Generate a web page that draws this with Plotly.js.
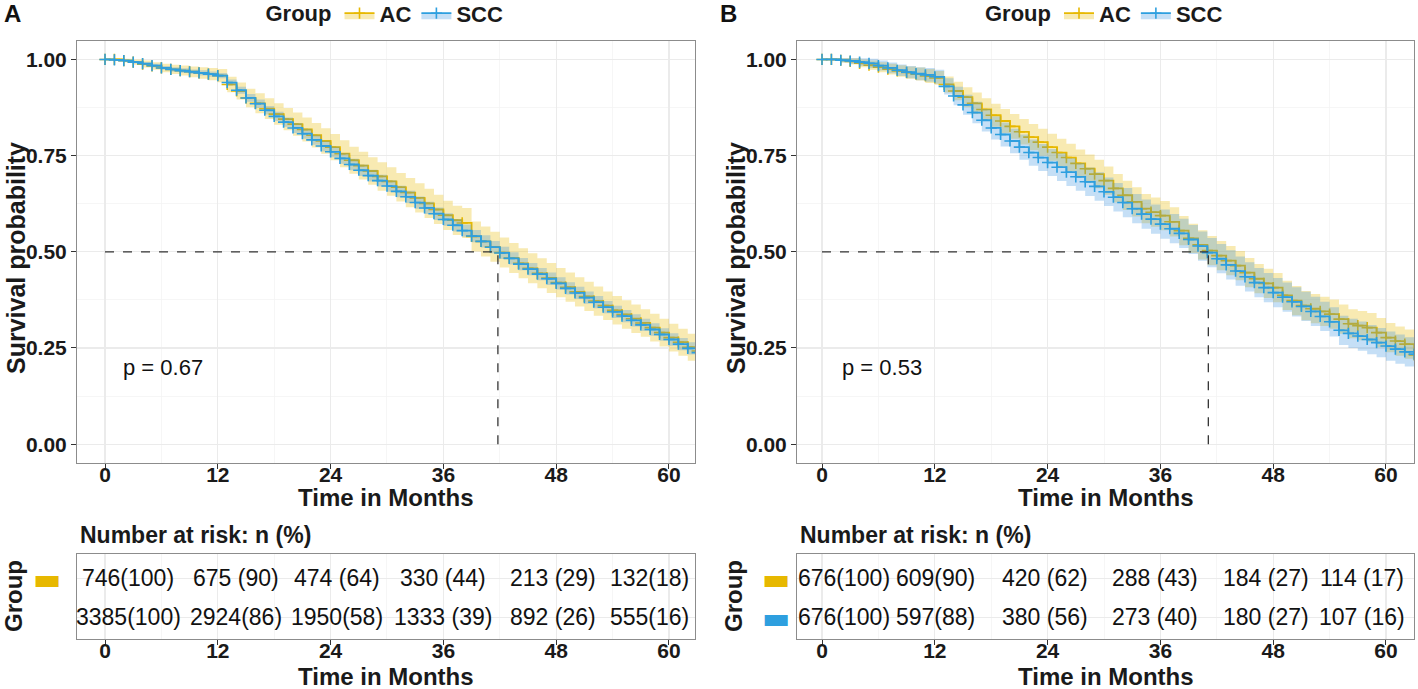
<!DOCTYPE html>
<html><head><meta charset="utf-8">
<script src="https://cdn.plot.ly/plotly-3.0.1.min.js"></script>
<style>html,body{margin:0;padding:0;background:#fff}#chart{width:1418px;height:689px}</style>
</head><body><div id="chart"></div>
<script>
// ---------- DATA ----------
const months = [0,1,2,3,4,5,6,7,8,9,10,11,12,13,14,15,16,17,18,19,20,21,22,23,24,25,26,27,28,29,30,31,
  32,33,34,35,36,37,38,39,40,41,42,43,44,45,46,47,48,49,50,51,52,53,54,55,56,57,58,59,60,61,62,63];
const groups = ["AC", "SCC"];

// Panel A survival estimates
const survA_AC = [1.000,1.000,0.997,0.993,0.988,0.983,0.978,0.974,
  0.971,0.968,0.965,0.962,0.958,0.935,0.918,0.900,
  0.886,0.872,0.858,0.845,0.832,0.818,0.803,0.788,
  0.772,0.755,0.738,0.724,0.710,0.696,0.683,0.668,
  0.654,0.640,0.626,0.610,0.595,0.582,0.575,0.540,
  0.527,0.513,0.498,0.484,0.470,0.457,0.444,0.432,
  0.420,0.408,0.396,0.384,0.372,0.360,0.348,0.337,
  0.326,0.315,0.303,0.290,0.277,0.265,0.252,0.242];
const survA_SCC = [1.000,0.999,0.997,0.993,0.989,0.984,0.978,0.974,
  0.971,0.968,0.965,0.962,0.958,0.940,0.920,0.900,
  0.885,0.868,0.852,0.837,0.822,0.807,0.791,0.775,
  0.760,0.743,0.727,0.712,0.698,0.685,0.671,0.657,
  0.643,0.628,0.614,0.599,0.584,0.569,0.555,0.541,
  0.527,0.512,0.497,0.483,0.468,0.455,0.442,0.430,
  0.418,0.405,0.393,0.381,0.369,0.356,0.344,0.333,
  0.322,0.310,0.298,0.285,0.272,0.260,0.249,0.238];
// Panel A 95% CI half-widths
const ciA_AC = [0,.003,.005,.007,.009,.010,.011,.012,
  .013,.014,.015,.016,.017,.020,.022,.024,
  .026,.027,.028,.029,.030,.031,.032,.033,
  .034,.035,.035,.036,.036,.037,.037,.037,
  .038,.038,.038,.038,.038,.038,.039,.039,
  .039,.039,.039,.039,.039,.039,.039,.039,
  .038,.038,.038,.038,.038,.037,.037,.037,
  .037,.036,.036,.036,.036,.035,.035,.035];
const ciA_SCC = [0,.001,.002,.003,.004,.005,.005,.006,
  .006,.006,.007,.007,.007,.008,.009,.010,
  .011,.011,.012,.012,.013,.013,.013,.014,
  .014,.014,.015,.015,.015,.015,.015,.015,
  .016,.016,.016,.016,.016,.016,.016,.016,
  .016,.016,.016,.016,.016,.016,.016,.016,
  .016,.016,.016,.016,.016,.016,.016,.016,
  .016,.016,.016,.016,.016,.016,.016,.016];

// Panel B survival estimates
const survB_AC = [1.000,1.000,0.998,0.995,0.990,0.985,0.980,0.975,
  0.970,0.966,0.962,0.957,0.952,0.935,0.918,0.902,
  0.886,0.870,0.855,0.840,0.826,0.812,0.798,0.785,
  0.772,0.758,0.745,0.730,0.716,0.702,0.685,0.665,
  0.647,0.630,0.612,0.603,0.594,0.578,0.555,0.535,
  0.518,0.503,0.490,0.477,0.464,0.446,0.430,0.418,
  0.407,0.387,0.373,0.360,0.352,0.345,0.338,0.325,
  0.313,0.308,0.303,0.290,0.277,0.268,0.260,0.232];
const survB_SCC = [1.000,1.000,0.998,0.996,0.993,0.990,0.984,0.978,
  0.972,0.967,0.963,0.960,0.955,0.930,0.905,0.882,
  0.862,0.842,0.822,0.805,0.788,0.772,0.758,0.745,
  0.732,0.720,0.707,0.695,0.682,0.670,0.656,0.642,
  0.628,0.612,0.598,0.585,0.572,0.560,0.548,0.532,
  0.515,0.498,0.482,0.466,0.450,0.435,0.420,0.407,
  0.394,0.382,0.370,0.358,0.345,0.332,0.318,0.296,
  0.288,0.281,0.272,0.264,0.255,0.247,0.240,0.234];
const ciB_AC = [0,.003,.006,.008,.010,.012,.013,.014,
  .015,.016,.017,.018,.018,.021,.024,.026,
  .028,.029,.030,.031,.032,.033,.034,.035,
  .035,.036,.036,.036,.037,.037,.037,.037,
  .038,.038,.038,.038,.038,.038,.038,.038,
  .038,.038,.038,.038,.038,.038,.038,.038,
  .038,.038,.038,.038,.038,.038,.038,.038,
  .038,.038,.038,.038,.038,.038,.038,.038];
const ciB_SCC = [0,.003,.006,.008,.010,.012,.013,.014,
  .015,.016,.017,.018,.018,.021,.024,.026,
  .028,.029,.030,.031,.032,.033,.034,.035,
  .035,.036,.036,.036,.037,.037,.037,.037,
  .038,.038,.038,.038,.038,.038,.038,.038,
  .038,.038,.038,.038,.038,.038,.038,.038,
  .038,.038,.038,.038,.038,.038,.038,.038,
  .038,.038,.038,.038,.038,.038,.038,.038];

const medianA = 41.8, medianB = 41.1;
const pTextA = "p = 0.67", pTextB = "p = 0.53";

// Number at risk
const riskTimes = [0, 12, 24, 36, 48, 60];
const riskA_AC  = ["746(100)", "675 (90)", "474 (64)", "330 (44)", "213 (29)", "132(18)"];
const riskA_SCC = ["3385(100)", "2924(86)", "1950(58)", "1333 (39)", "892 (26)", "555(16)"];
const riskB_AC  = ["676(100)", "609(90)", "420 (62)", "288 (43)", "184 (27)", "114 (17)"];
const riskB_SCC = ["676(100)", "597(88)", "380 (56)", "273 (40)", "180 (27)", "107 (16)"];

// ---------- STYLE ----------
const FONT = "Liberation Sans, Arial, Helvetica, sans-serif";
const colAC = "#E7B800", colSCC = "#2E9FDF";
const fillAC = "rgba(231,184,0,0.30)", fillSCC = "rgba(46,140,223,0.28)";
const W = 1418, H = 689;
const px = v => v / W, py = v => 1 - v / H;
const shiftA = [23, 18, 6, 0, -3, -19];
const shiftB = [22, 1, -3, -5, -7, -24];

function km(t, s, ci, color, fill, name, xa, ya, legend) {
  const lo = s.map((v, i) => v - ci[i]);
  const hi = s.map((v, i) => v + ci[i]);
  return [
    {x: t, y: lo, xaxis: xa, yaxis: ya, mode: "lines", line: {width: 0, shape: "hv"},
     showlegend: false, hoverinfo: "skip", legend: legend},
    {x: t, y: s, xaxis: xa, yaxis: ya, mode: "lines+markers", name: name, legend: legend,
     line: {color: color, width: 1.8, shape: "hv"}, fill: "tonexty", fillcolor: fill,
     marker: {symbol: "cross-thin", size: 8, color: color, line: {width: 1.6, color: color}}},
    {x: t, y: hi, xaxis: xa, yaxis: ya, mode: "lines", line: {width: 0, shape: "hv"},
     fill: "tonexty", fillcolor: fill, showlegend: false, hoverinfo: "skip", legend: legend}
  ];
}

const traces = [].concat(
  km(months, survA_AC, ciA_AC, colAC, fillAC, groups[0], "x", "y", "legend"),
  km(months, survA_SCC, ciA_SCC, colSCC, fillSCC, groups[1], "x", "y", "legend"),
  km(months, survB_AC, ciB_AC, colAC, fillAC, groups[0], "x2", "y2", "legend2"),
  km(months, survB_SCC, ciB_SCC, colSCC, fillSCC, groups[1], "x2", "y2", "legend2")
);

const tickFont = {family: FONT, size: 21, weight: "bold", color: "#1a1a1a"};
function xAx(dom, rng, anchor) {
  return {domain: dom, anchor: anchor, range: rng, tick0: 0, dtick: 12, ticks: "outside", ticklen: 5,
    tickcolor: "#333", tickwidth: 1, showline: true, mirror: true, linecolor: "#8c8c8c", linewidth: 1,
    showgrid: true, gridcolor: "#EBEBEB", gridwidth: 1.2, zeroline: false, tickfont: tickFont,
    ticklabelstandoff: -12,
    minor: {tick0: 0, dtick: 6, showgrid: true, gridcolor: "#F4F4F4", gridwidth: 0.8, ticks: ""}};
}
function yMain(dom, anchor) {
  return {domain: dom, anchor: anchor, range: [-0.049, 1.048], tick0: 0, dtick: 0.25, tickformat: ".2f",
    ticks: "outside", ticklen: 5, tickcolor: "#333", showline: true, mirror: true, linecolor: "#8c8c8c",
    linewidth: 1, showgrid: true, gridcolor: "#EBEBEB", gridwidth: 1.2, zeroline: false, tickfont: tickFont,
    minor: {tick0: 0, dtick: 0.125, showgrid: true, gridcolor: "#F4F4F4", gridwidth: 0.8, ticks: ""}};
}
const bar = c => '<span style="color:' + c + '">▬</span>';
function yTab(dom, anchor, labels, standoff) {
  return {domain: dom, anchor: anchor, range: [0.45, 2.62], tickvals: [2, 1], ticktext: labels,
    ticks: "", showline: true, mirror: true, linecolor: "#8c8c8c", linewidth: 1, showgrid: true,
    gridcolor: "#EBEBEB", gridwidth: 1.2, zeroline: false, ticklabelstandoff: standoff,
    tickfont: {family: "DejaVu Sans, sans-serif", size: 30}};
}

const domA = [px(77), px(695)], domB = [px(797), px(1414)];
const domMain = [py(463), py(41)], domTab = [py(639), py(554)];

const annotations = [];
function ann(o) { annotations.push(Object.assign({showarrow: false}, o)); }
const titleFont = {family: FONT, size: 24, weight: "bold", color: "#1a1a1a"};
const yTitleFont = {family: FONT, size: 25, weight: "bold", color: "#1a1a1a"};
const riskTitleFont = {family: FONT, size: 23, weight: "bold", color: "#1a1a1a"};
// panel labels
ann({text: "A", x: px(2), y: py(14), xref: "paper", yref: "paper", xanchor: "left", yanchor: "middle",
  font: {family: FONT, size: 24, weight: "bold", color: "#111"}});
ann({text: "B", x: px(718), y: py(14), xref: "paper", yref: "paper", xanchor: "left", yanchor: "middle",
  font: {family: FONT, size: 24, weight: "bold", color: "#111"}});
[[domA, 16, 78], [domB, 736, 798]].forEach(([d, yt, nr]) => {
  const cx = (d[0] + d[1]) / 2;
  ann({text: "Survival probability", textangle: -90, x: px(yt), y: py(258), xref: "paper", yref: "paper",
    xanchor: "center", yanchor: "middle", font: yTitleFont});
  ann({text: "Time in Months", x: cx, y: py(497), xref: "paper", yref: "paper", xanchor: "center",
    yanchor: "middle", font: titleFont});
  ann({text: "Time in Months", x: cx, y: py(676), xref: "paper", yref: "paper", xanchor: "center",
    yanchor: "middle", font: titleFont});
  ann({text: "Number at risk: n (%)", x: px(nr), y: py(535), xref: "paper", yref: "paper", xanchor: "left",
    yanchor: "middle", font: riskTitleFont});
  ann({text: "Group", textangle: -90, x: px(yt - 3), y: py(596), xref: "paper", yref: "paper",
    xanchor: "center", yanchor: "middle", font: titleFont});
});
ann({text: pTextA, x: 1.75, y: 0.198, xref: "x", yref: "y", xanchor: "left", yanchor: "middle",
  font: {family: FONT, size: 22, color: "#111"}});
ann({text: pTextB, x: 1.9, y: 0.198, xref: "x2", yref: "y2", xanchor: "left", yanchor: "middle",
  font: {family: FONT, size: 22, color: "#111"}});
// risk table text
const tabFont = {family: FONT, size: 23, color: "#111"};
[[riskA_AC, 2, "x3", "y3", shiftA], [riskA_SCC, 1, "x3", "y3", shiftA],
 [riskB_AC, 2, "x4", "y4", shiftB], [riskB_SCC, 1, "x4", "y4", shiftB]].forEach(([labs, row, xr, yr, sh]) => {
  labs.forEach((lab, i) => ann({text: lab, x: riskTimes[i], y: row, xref: xr, yref: yr, xshift: sh[i],
    xanchor: "center", yanchor: "middle", font: tabFont}));
});

const dash = {color: "#333", width: 1.3, dash: "dash"};
const shapes = [
  {type: "line", xref: "x", yref: "y", x0: 0, x1: medianA, y0: 0.5, y1: 0.5, line: dash},
  {type: "line", xref: "x", yref: "y", x0: medianA, x1: medianA, y0: 0, y1: 0.5, line: dash},
  {type: "line", xref: "x2", yref: "y2", x0: 0, x1: medianB, y0: 0.5, y1: 0.5, line: dash},
  {type: "line", xref: "x2", yref: "y2", x0: medianB, x1: medianB, y0: 0, y1: 0.5, line: dash}
];

const legFont = {family: FONT, size: 22, weight: "bold", color: "#1a1a1a"};
function leg(cx) {
  return {x: cx, xanchor: "center", y: 1.011, yanchor: "top", orientation: "h", bgcolor: "rgba(0,0,0,0)",
    traceorder: "normal", title: {text: "Group", side: "left", font: legFont}, font: legFont,
    itemwidth: 30, tracegroupgap: 0};
}

const layout = {
  width: W, height: H, margin: {l: 0, r: 0, t: 0, b: 0, autoexpand: false},
  paper_bgcolor: "#fff", plot_bgcolor: "#fff",
  font: {family: FONT}, showlegend: true,
  legend: leg((domA[0] + domA[1]) / 2), legend2: leg((domB[0] + domB[1]) / 2),
  xaxis: xAx(domA, [-2.98, 62.77], "y"), yaxis: yMain(domMain, "x"),
  xaxis2: xAx(domB, [-2.66, 62.98], "y2"), yaxis2: yMain(domMain, "x2"),
  xaxis3: xAx(domA, [-2.98, 62.77], "y3"), yaxis3: yTab(domTab, "x3", [bar(colAC), ""], 9),
  xaxis4: xAx(domB, [-2.66, 62.98], "y4"), yaxis4: yTab(domTab, "x4", [bar(colAC), bar(colSCC)], 0),
  annotations: annotations, shapes: shapes
};
Plotly.newPlot("chart", traces, layout, {displayModeBar: false, staticPlot: true});
</script></body></html>
